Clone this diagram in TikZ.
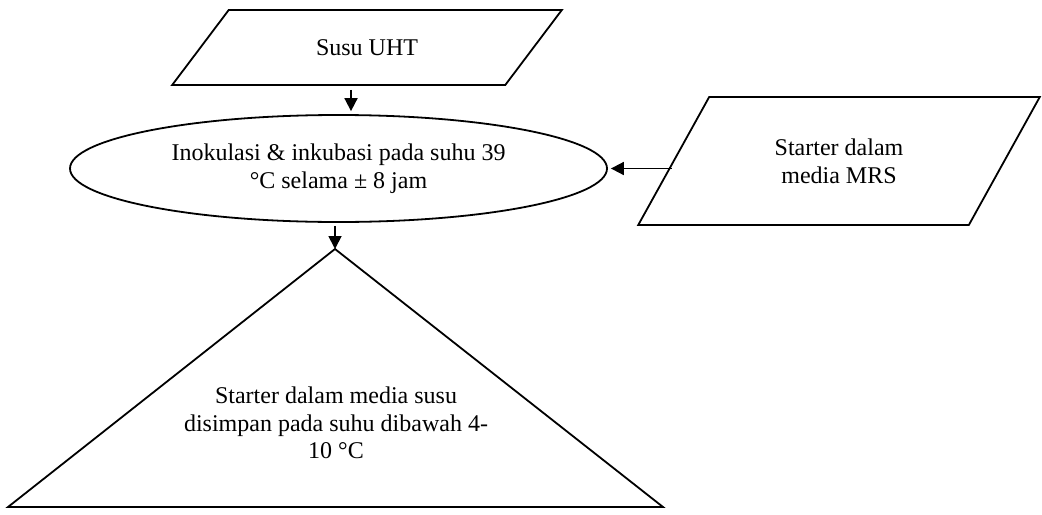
\documentclass[tikz,border=0pt]{standalone}
\usepackage{fontspec}
\setmainfont{Liberation Serif}
\usepackage{tikz}
\usetikzlibrary{shapes,arrows,positioning,calc,arrows.meta}

\begin{document}
\begin{tikzpicture}[x=0.5pt, y=-0.5pt, font=\fontsize{12}{13.8}\selectfont, line width=0.9pt,
        datain/.style={trapezium, draw, trapezium stretches=true, align=center, inner sep=0pt},
        arr/.style={-{Triangle[length=6.5pt,width=6.5pt]}}]
        \useasboundingbox (0,0) rectangle (1042,514);
        \node[datain, trapezium left angle=37.7, trapezium right angle=142.3,
            minimum width=195pt, minimum height=37.5pt] (uht) at (367,47.5) {Susu UHT};
        \node[ellipse, draw, minimum width=268.5pt, minimum height=53.5pt, align=center] (inok) at (338.5,168.5)
            {Inokulasi \& inkubasi pada suhu 39\\°C selama ± 8 jam};
        \node[datain, trapezium left angle=51.7, trapezium right angle=128.3,
            minimum width=202pt, minimum height=64pt] (mrs) at (839,161) {Starter dalam\\media MRS};
        
        \coordinate (apex) at (335,249);
        \coordinate (bl) at (8,507);
        \coordinate (br) at (663,507);
        \draw (apex) -- (br) -- (bl) -- cycle;
        \node[align=center] (store) at (336,423) {Starter dalam media susu\\disimpan pada suhu dibawah 4-\\10 °C};
        
        \coordinate (a1) at ($(uht.south)+(-16,4)$);
        \draw[arr, shorten >=1.5pt] (a1) -- (a1 |- inok.north);
        \draw[arr] ([yshift=-1.5pt]inok.south -| apex) -- (apex);
        \coordinate (a3) at ($(inok.east)+(64,0)$);
        \draw[arr, shorten >=1.5pt] (a3) -- (inok.east);
    \end{tikzpicture}
\end{document}
